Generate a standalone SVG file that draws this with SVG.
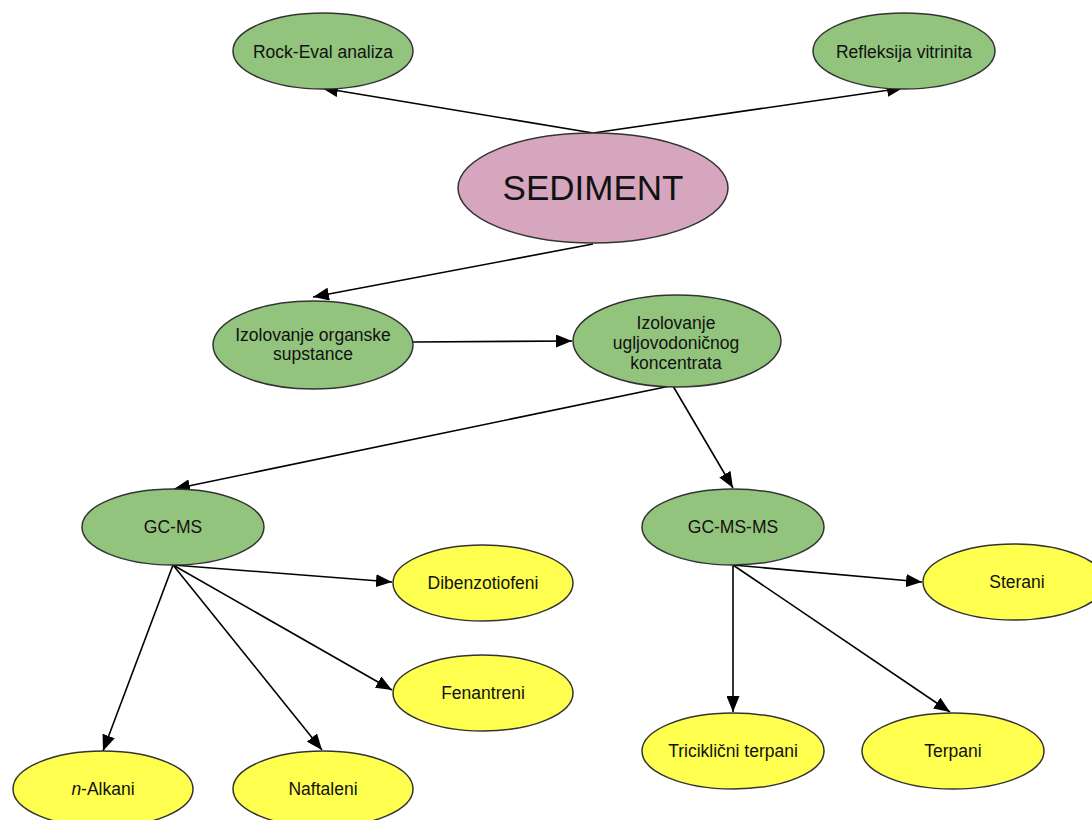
<svg xmlns="http://www.w3.org/2000/svg" width="1092" height="820" viewBox="0 0 1092 820">
<defs>
<style>
.g{fill:#93c47d;stroke:#333;stroke-width:1.5}
.p{fill:#d5a6bd;stroke:#333;stroke-width:1.5}
.y{fill:#ffff4f;stroke:#333;stroke-width:1.5}
text{font-family:"Liberation Sans",Arial,sans-serif;font-size:17.5px;fill:#111;text-anchor:middle}
.c line{stroke:#000;stroke-width:1.6;marker-end:url(#ah)}
</style>
<marker id="ah" markerUnits="userSpaceOnUse" markerWidth="17" markerHeight="13" refX="16" refY="6.5" orient="auto">
<path d="M0,0 L16,6.5 L0,13 Z" fill="#000"/>
</marker>
</defs>
<rect width="1092" height="820" fill="#fff"/>
<g class="c" id="connectors">
<line x1="593" y1="133" x2="322" y2="88"/>
<line x1="593" y1="133" x2="903" y2="88"/>
<line x1="593" y1="244" x2="313" y2="297"/>
<line x1="413" y1="342" x2="572" y2="341"/>
<line x1="670" y1="386" x2="174" y2="489"/>
<line x1="673" y1="386" x2="733" y2="488"/>
<line x1="173" y1="565" x2="392" y2="582"/>
<line x1="173" y1="565" x2="392" y2="690"/>
<line x1="173" y1="565" x2="322" y2="750"/>
<line x1="173" y1="565" x2="103" y2="751"/>
<line x1="733" y1="565" x2="922" y2="582"/>
<line x1="733" y1="565" x2="733" y2="712"/>
<line x1="733" y1="565" x2="950" y2="712"/>
</g>
<g id="rock-eval"><ellipse class="g" cx="323" cy="51" rx="90" ry="38"/><text x="323" y="58">Rock-Eval analiza</text></g>
<g id="refleksija"><ellipse class="g" cx="904" cy="51" rx="91" ry="38"/><text x="904" y="58">Refleksija vitrinita</text></g>
<g id="sediment"><ellipse class="p" cx="593" cy="188" rx="135" ry="55"/><text x="593" y="200" style="font-size:35px">SEDIMENT</text></g>
<g id="izolovanje-os"><ellipse class="g" cx="313" cy="345" rx="100" ry="44"/><text x="313" y="341">Izolovanje organske</text><text x="313" y="360">supstance</text></g>
<g id="izolovanje-uk"><ellipse class="g" cx="677" cy="341" rx="104" ry="46"/><text x="676" y="329">Izolovanje</text><text x="676" y="349">ugljovodoničnog</text><text x="676" y="369">koncentrata</text></g>
<g id="gcms"><ellipse class="g" cx="173" cy="527" rx="91" ry="38"/><text x="173" y="533">GC-MS</text></g>
<g id="gcmsms"><ellipse class="g" cx="733" cy="527" rx="91" ry="38"/><text x="733" y="533">GC-MS-MS</text></g>
<g id="dibenzotiofeni"><ellipse class="y" cx="483" cy="583" rx="90" ry="38"/><text x="483" y="589">Dibenzotiofeni</text></g>
<g id="fenantreni"><ellipse class="y" cx="483" cy="693" rx="90" ry="38"/><text x="483" y="699">Fenantreni</text></g>
<g id="n-alkani"><ellipse class="y" cx="103" cy="789" rx="90" ry="38"/><text x="103" y="795"><tspan font-style="italic">n</tspan>-Alkani</text></g>
<g id="naftaleni"><ellipse class="y" cx="323" cy="789" rx="90" ry="38"/><text x="323" y="795">Naftaleni</text></g>
<g id="sterani"><ellipse class="y" cx="1014" cy="582" rx="91" ry="38"/><text x="1017" y="588">Sterani</text></g>
<g id="triciklicni"><ellipse class="y" cx="733" cy="751" rx="91" ry="38"/><text x="733" y="757">Triciklični terpani</text></g>
<g id="terpani"><ellipse class="y" cx="953" cy="751" rx="91" ry="38"/><text x="953" y="757">Terpani</text></g>
</svg>
